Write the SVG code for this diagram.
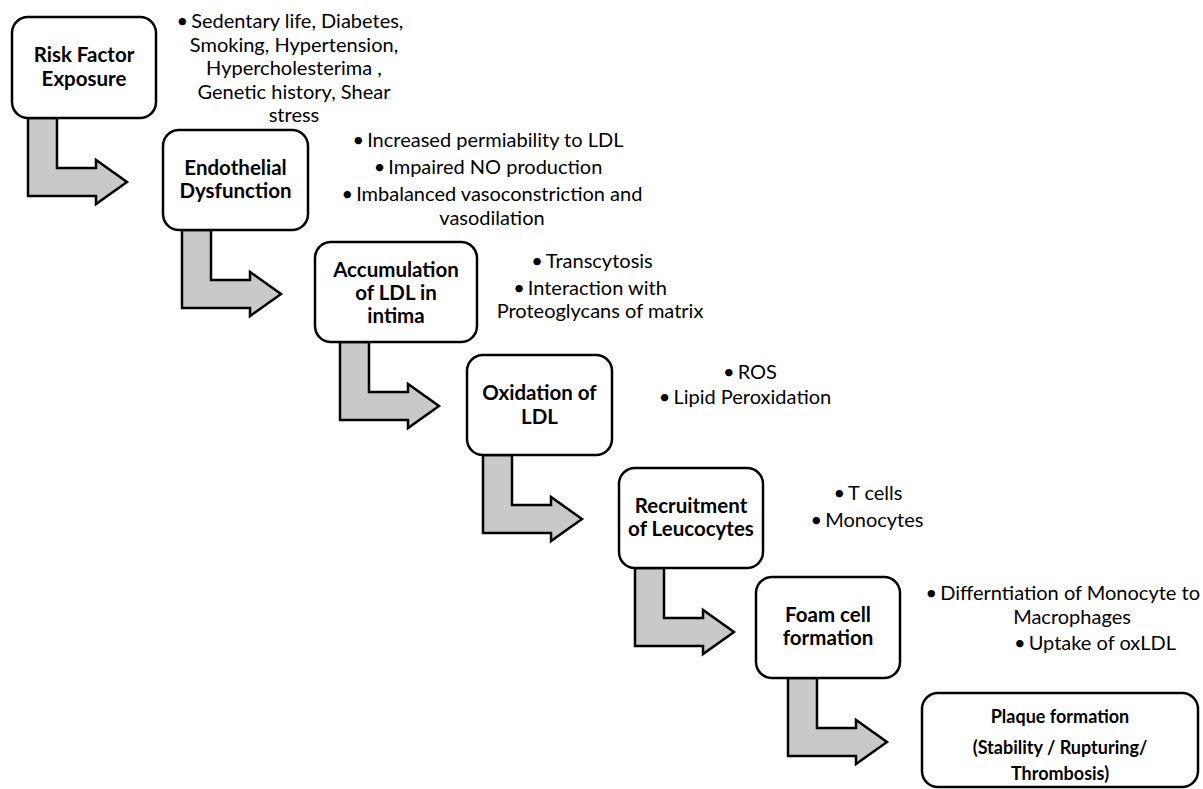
<svg xmlns="http://www.w3.org/2000/svg" width="1203" height="789" viewBox="0 0 1203 789">
<style>
.box{fill:#fff;stroke:#000;stroke-width:2.5}
.arr{fill:#c9c9c9;stroke:#000;stroke-width:2.5;stroke-linejoin:miter}
.lbl{font-family:Lato,"Liberation Sans",sans-serif;font-weight:bold;font-size:20.5px;fill:#000;text-anchor:middle}
.plq{font-family:Lato,"Liberation Sans",sans-serif;font-weight:bold;font-size:18px;fill:#000;text-anchor:middle}
.bul{font-family:Lato,"Liberation Sans",sans-serif;font-size:20px;fill:#000;text-anchor:middle}
</style>
<rect width="1203" height="789" fill="#fff"/>
<g id="connectors">
<polygon class="arr" points="28,118 57,118 57,168 96,168 96,160 127,182 96,204 96,196 28,196"/>
<polygon class="arr" points="182,230 211,230 211,280 250,280 250,272 281,294 250,316 250,308 182,308"/>
<polygon class="arr" points="340,342 369,342 369,392 408,392 408,384 439,406 408,428 408,420 340,420"/>
<polygon class="arr" points="483,455 512,455 512,505 551,505 551,497 582,519 551,541 551,533 483,533"/>
<polygon class="arr" points="635,568 664,568 664,618 703,618 703,610 734,632 703,654 703,646 635,646"/>
<polygon class="arr" points="788,678 817,678 817,728 856,728 856,720 887,742 856,764 856,756 788,756"/>
</g>
<g id="risk">
<rect class="box" x="12" y="17" width="144" height="101" rx="16"/>
<text class="lbl" x="84" y="62">Risk Factor</text>
<text class="lbl" x="84" y="86">Exposure</text>
</g>
<g id="risk-notes">
<text class="bul" x="290" y="28">•<tspan dx="3">Sedentary life, Diabetes,</tspan></text>
<text class="bul" x="294" y="51.5">Smoking, Hypertension,</text>
<text class="bul" x="294" y="75">Hypercholesterima ,</text>
<text class="bul" x="294" y="98.5">Genetic history, Shear</text>
<text class="bul" x="294" y="122">stress</text>
</g>
<g id="endothelial">
<rect class="box" x="163" y="130" width="145" height="100" rx="16"/>
<text class="lbl" x="235.5" y="175">Endothelial</text>
<text class="lbl" x="235.5" y="198">Dysfunction</text>
</g>
<g id="endothelial-notes">
<text class="bul" x="488" y="147">•<tspan dx="3">Increased permiability to LDL</tspan></text>
<text class="bul" x="488" y="174">•<tspan dx="3">Impaired NO production</tspan></text>
<text class="bul" x="492" y="201">•<tspan dx="3">Imbalanced vasoconstriction and</tspan></text>
<text class="bul" x="492" y="225">vasodilation</text>
</g>
<g id="accumulation">
<rect class="box" x="315" y="242" width="162" height="100" rx="16"/>
<text class="lbl" x="396" y="277">Accumulation</text>
<text class="lbl" x="396" y="300">of LDL in</text>
<text class="lbl" x="396" y="323">intima</text>
</g>
<g id="accumulation-notes">
<text class="bul" x="592" y="268">•<tspan dx="3">Transcytosis</tspan></text>
<text class="bul" x="590" y="295">•<tspan dx="3">Interaction with</tspan></text>
<text class="bul" x="600" y="318">Proteoglycans of matrix</text>
</g>
<g id="oxidation">
<rect class="box" x="467" y="355" width="145" height="100" rx="16"/>
<text class="lbl" x="539.5" y="400">Oxidation of</text>
<text class="lbl" x="539.5" y="424">LDL</text>
</g>
<g id="oxidation-notes">
<text class="bul" x="750" y="379">•<tspan dx="3">ROS</tspan></text>
<text class="bul" x="745" y="404">•<tspan dx="3">Lipid Peroxidation</tspan></text>
</g>
<g id="recruitment">
<rect class="box" x="619" y="468" width="144" height="100" rx="16"/>
<text class="lbl" x="691" y="513">Recruitment</text>
<text class="lbl" x="691" y="536">of Leucocytes</text>
</g>
<g id="recruitment-notes">
<text class="bul" x="868" y="500">•<tspan dx="3">T cells</tspan></text>
<text class="bul" x="867" y="527">•<tspan dx="3">Monocytes</tspan></text>
</g>
<g id="foam">
<rect class="box" x="756" y="577" width="144" height="101" rx="16"/>
<text class="lbl" x="828" y="622">Foam cell</text>
<text class="lbl" x="828" y="645">formation</text>
</g>
<g id="foam-notes">
<text class="bul" x="1200" y="600" style="text-anchor:end">•<tspan dx="3">Differntiation of Monocyte to</tspan></text>
<text class="bul" x="1072" y="623.5">Macrophages</text>
<text class="bul" x="1095" y="650">•<tspan dx="3">Uptake of oxLDL</tspan></text>
</g>
<g id="plaque">
<rect class="box" x="922" y="693" width="276" height="94" rx="16"/>
<text class="plq" x="1060" y="723">Plaque formation</text>
<text class="plq" x="1060" y="754">(Stability / Rupturing/</text>
<text class="plq" x="1060" y="780">Thrombosis)</text>
</g>
</svg>
